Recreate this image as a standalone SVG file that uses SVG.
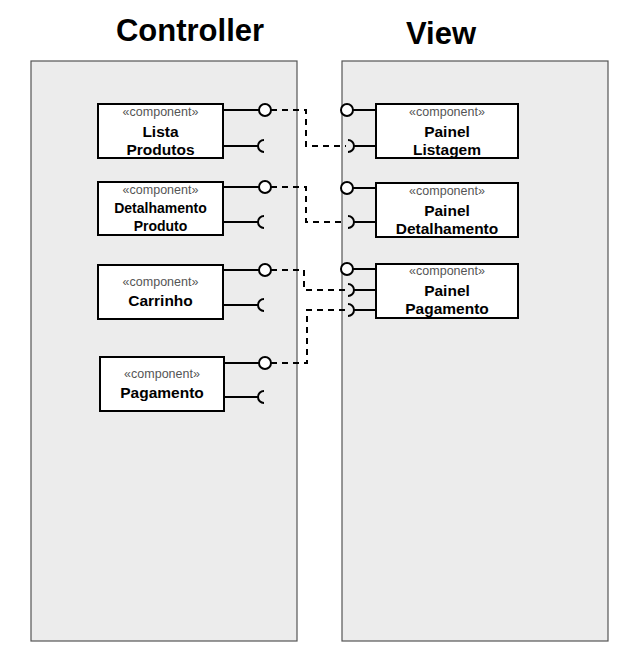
<svg xmlns="http://www.w3.org/2000/svg" width="641" height="654" viewBox="0 0 641 654">
<style>
.panel{fill:#ececec;stroke:#555;stroke-width:1.2}
.box{fill:#fff;stroke:#000;stroke-width:2}
.ln{stroke:#000;stroke-width:2;fill:none}
.lol{fill:#fff;stroke:#000;stroke-width:2}
.dash{stroke:#000;stroke-width:2;fill:none;stroke-dasharray:6 5}
.title{font-family:"Liberation Sans",Arial,sans-serif;font-weight:bold;font-size:31px;text-anchor:middle}
.st{font-family:"Liberation Sans",Arial,sans-serif;font-size:12.5px;fill:#555;text-anchor:middle}
.nm{font-family:"Liberation Sans",Arial,sans-serif;font-weight:bold;font-size:15.5px;text-anchor:middle}
.nms{font-family:"Liberation Sans",Arial,sans-serif;font-weight:bold;font-size:14px;text-anchor:middle}
</style>
<rect width="641" height="654" fill="#fff"/>
<g id="controller">
<rect class="panel" x="31" y="61" width="266" height="580"/>
<text class="title" x="190" y="41">Controller</text>
</g>
<g id="view">
<rect class="panel" x="342" y="61" width="266" height="580"/>
<text class="title" x="441" y="44">View</text>
</g>
<g id="connectors">
<path class="dash" d="M271 110 H306 V146 H346"/>
<path class="dash" d="M271 187 H306 V222 H346"/>
<path class="dash" d="M271 270 H304 V290 H346"/>
<path class="dash" d="M271 363 H307 V310 H346"/>
</g>
<g id="lista-produtos">
<rect class="box" x="98" y="104" width="125" height="54"/>
<text class="st" x="160.5" y="116">«component»</text>
<text class="nm" x="160.5" y="137">Lista</text>
<text class="nm" x="160.5" y="155">Produtos</text>
<path class="ln" d="M223 110 H259 M223 146 H258"/>
<path class="ln" d="M264 140 A6 6 0 0 0 264 152"/>
<circle class="lol" cx="265" cy="110" r="6"/>
</g>
<g id="detalhamento-produto">
<rect class="box" x="98" y="182" width="125" height="53"/>
<text class="st" x="160.5" y="194">«component»</text>
<text class="nms" x="160.5" y="213">Detalhamento</text>
<text class="nms" x="160.5" y="231">Produto</text>
<path class="ln" d="M223 187 H259 M223 222 H258"/>
<path class="ln" d="M264 216 A6 6 0 0 0 264 228"/>
<circle class="lol" cx="265" cy="187" r="6"/>
</g>
<g id="carrinho">
<rect class="box" x="98" y="265" width="125" height="54"/>
<text class="st" x="160.5" y="286">«component»</text>
<text class="nm" x="160.5" y="306">Carrinho</text>
<path class="ln" d="M223 270 H259 M223 305 H258"/>
<path class="ln" d="M264 299 A6 6 0 0 0 264 311"/>
<circle class="lol" cx="265" cy="270" r="6"/>
</g>
<g id="pagamento">
<rect class="box" x="100" y="357" width="124" height="54"/>
<text class="st" x="162" y="378">«component»</text>
<text class="nm" x="162" y="398">Pagamento</text>
<path class="ln" d="M224 363 H259 M224 397 H258"/>
<path class="ln" d="M264 391 A6 6 0 0 0 264 403"/>
<circle class="lol" cx="265" cy="363" r="6"/>
</g>
<g id="painel-listagem">
<rect class="box" x="376" y="104" width="142" height="54"/>
<text class="st" x="447" y="116">«component»</text>
<text class="nm" x="447" y="137">Painel</text>
<text class="nm" x="447" y="155">Listagem</text>
<path class="ln" d="M353 110 H376 M354 146 H376"/>
<path class="ln" d="M348 140 A6 6 0 0 1 348 152"/>
<circle class="lol" cx="347" cy="110" r="6"/>
</g>
<g id="painel-detalhamento">
<rect class="box" x="376" y="183" width="142" height="54"/>
<text class="st" x="447" y="195">«component»</text>
<text class="nm" x="447" y="216">Painel</text>
<text class="nm" x="447" y="234">Detalhamento</text>
<path class="ln" d="M353 188 H376 M354 222 H376"/>
<path class="ln" d="M348 216 A6 6 0 0 1 348 228"/>
<circle class="lol" cx="347" cy="188" r="6"/>
</g>
<g id="painel-pagamento">
<rect class="box" x="376" y="264" width="142" height="54"/>
<text class="st" x="447" y="275">«component»</text>
<text class="nm" x="447" y="296">Painel</text>
<text class="nm" x="447" y="314">Pagamento</text>
<path class="ln" d="M353 269 H376 M354 290 H376 M354 310 H376"/>
<path class="ln" d="M348 284 A6 6 0 0 1 348 296"/>
<path class="ln" d="M348 304 A6 6 0 0 1 348 316"/>
<circle class="lol" cx="347" cy="269" r="6"/>
</g>
</svg>
